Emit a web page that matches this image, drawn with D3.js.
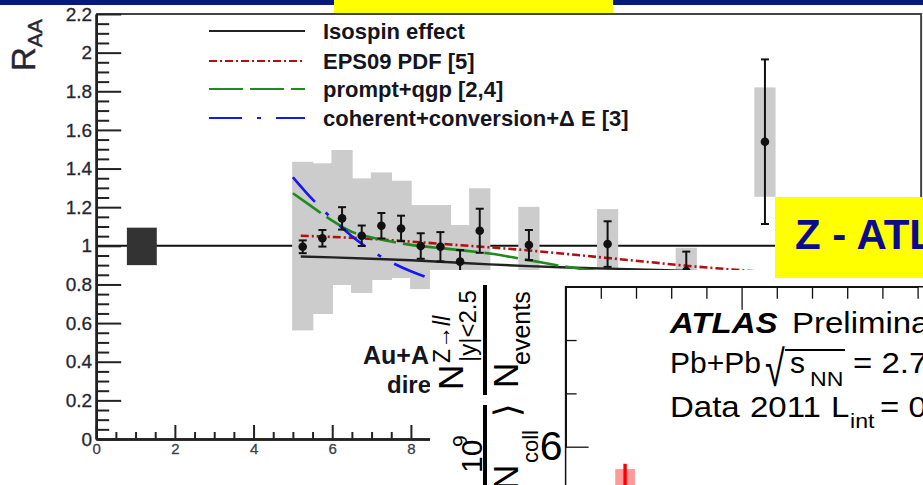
<!DOCTYPE html>
<html><head><meta charset="utf-8">
<script src="https://cdn.jsdelivr.net/npm/d3@7"></script>
<style>
html,body{margin:0;padding:0;background:#fff;}
svg{display:block;font-family:"Liberation Sans",Arial,Helvetica,sans-serif;}
</style></head><body>
<svg id="c" width="923" height="485"></svg>
<script>
// ---- direct photon R_AA vs pT ----
const ptBins   = [5.25,5.75,6.25,6.75,7.25,7.75,8.25,8.75,9.25,9.75,11,13,15,17];
const raa      = [0.995,1.039,1.142,1.052,1.104,1.090,0.999,0.995,0.918,1.078,1.004,1.009,0.87,1.539];
const statErr  = [0.033,0.043,0.058,0.053,0.066,0.066,0.066,0.076,0.06,0.114,0.078,0.118,0.10,0.426];
const sysLow   = [0.562,0.647,0.797,0.756,0.823,0.833,0.776,0.78,0.73,0.86,0.806,0.828,0.75,1.254];
const sysHigh  = [1.435,1.427,1.496,1.349,1.380,1.337,1.211,1.211,1.108,1.298,1.202,1.19,0.99,1.82];

// theory curves
const isospinPt = [5.2,6,7,8,9,10,11,12,13,14,15,16,17,18];
const isospin   = [0.945,0.94,0.933,0.925,0.915,0.904,0.895,0.888,0.882,0.877,0.87,0.864,0.858,0.852];
const eps09Pt   = [5.2,6,7,8,9,10,11,12,13,14,15,16,17,18];
const eps09     = [1.052,1.046,1.036,1.022,1.007,0.992,0.976,0.957,0.937,0.917,0.897,0.88,0.864,0.85];
const qgpPt     = [5.0,5.5,6.0,6.5,7.0,7.5,8.0,9.0,10.0,11.0,12.0,13.0,14.0];
const qgp       = [1.272,1.2,1.13,1.072,1.043,1.022,1.005,0.983,0.96,0.926,0.89,0.862,0.842];
const cohPt     = [5.0,5.5,6.0,6.5,7.0,7.5,8.0,8.5,9.0];
const coh       = [1.355,1.24,1.14,1.05,0.975,0.915,0.868,0.83,0.80];

const normBox = [0.78, 1.54, 0.9, 1.094];   // pT from, pT to, R_AA low, R_AA high

const yTickValues = [0,0.2,0.4,0.6,0.8,1,1.2,1.4,1.6,1.8,2,2.2];
const yTickLabels = ["0","0.2","0.4","0.6","0.8","1","1.2","1.4","1.6","1.8","2","2.2"];
const xTickValues = [0,2,4,6,8,10,12,14,16,18,20];
const xTickLabels = ["0","2","4","6","8","10","12","14","16","18","20"];

const legendNames = ["Isospin effect","EPS09 PDF [5]","prompt+qgp [2,4]","coherent+conversion+\u0394 E [3]"];

// ---- Z yield panel ----
const zNpart   = [16.9];
const zYield   = [5.45];
const zStat    = [0.39];
const zSys     = [0.34];
const zYTicks  = [6];
const zYTickLabels = ["6"];

const svg = d3.select("#c");
const W = 923, H = 485;
svg.append("rect").attr("width",W).attr("height",H).attr("fill","#fff");

// slide header strip and title box
svg.append("rect").attr("x",0).attr("y",0).attr("width",W).attr("height",5).attr("fill","#06197c");
svg.append("rect").attr("x",334).attr("y",0).attr("width",279).attr("height",13).attr("fill","#ffff00");

const x = d3.scaleLinear().domain([0,21]).range([96.2, 922.3]);
const y = d3.scaleLinear().domain([0,2.2]).range([439, 14]);
const txtCol = "#262633";

// frame
svg.append("path")
  .attr("d", `M${x(0)},${y(2.2)}H${x(20.97)}V${y(0)}`)
  .attr("fill","none").attr("stroke","#444").attr("stroke-width",2);

// unity reference
svg.append("line").attr("x1",x(0)).attr("x2",x(20.97)).attr("y1",y(1)).attr("y2",y(1))
  .attr("stroke","#111").attr("stroke-width",2);

// normalization uncertainty
svg.append("rect")
  .attr("x",x(normBox[0])).attr("width",x(normBox[1])-x(normBox[0]))
  .attr("y",y(normBox[3])).attr("height",y(normBox[2])-y(normBox[3]))
  .attr("fill","#333");

// systematic boxes
const hw = 0.27;
svg.append("g").selectAll("rect").data(d3.range(ptBins.length)).join("rect")
  .attr("x", i => x(ptBins[i]-hw)).attr("width", i => x(ptBins[i]+hw)-x(ptBins[i]-hw))
  .attr("y", i => y(sysHigh[i])).attr("height", i => y(sysLow[i])-y(sysHigh[i]))
  .attr("fill","#cccccc");

// theory curves
const line = d3.line().curve(d3.curveMonotoneX).x(d => x(d[0])).y(d => y(d[1]));
const curves = [
  {pt: isospinPt, v: isospin, color:"#222",    dash:null,          w:2.4},
  {pt: eps09Pt,   v: eps09,   color:"#b0100f", dash:"8,3,2,3",     w:2.6},
  {pt: qgpPt,     v: qgp,     color:"#1f8a1f", dash:"34,7",        w:2.6},
  {pt: cohPt,     v: coh,     color:"#1717f0", dash:"33,15,4,15",  w:2.6}
];
curves.forEach(c => {
  svg.append("path").datum(c.pt.map((p,i)=>[p,c.v[i]]))
    .attr("d", line).attr("fill","none").attr("stroke",c.color)
    .attr("stroke-width",c.w).attr("stroke-dasharray",c.dash);
});

// data points with statistical errors
const pg = svg.append("g").attr("stroke","#111").attr("stroke-width",2);
ptBins.forEach((p,i) => {
  const cx = x(p), lo = y(raa[i]-statErr[i]), hi = y(raa[i]+statErr[i]);
  pg.append("line").attr("x1",cx).attr("x2",cx).attr("y1",lo).attr("y2",hi);
  pg.append("line").attr("x1",cx-4).attr("x2",cx+4).attr("y1",lo).attr("y2",lo);
  pg.append("line").attr("x1",cx-4).attr("x2",cx+4).attr("y1",hi).attr("y2",hi);
});
svg.append("g").selectAll("circle").data(d3.range(ptBins.length)).join("circle")
  .attr("cx", i => x(ptBins[i])).attr("cy", i => y(raa[i])).attr("r",4.3).attr("fill","#111");

// axes
function styleAxis(g, w){
  g.select(".domain").attr("stroke","#222").attr("stroke-width",w);
  g.selectAll(".tick line").attr("stroke","#222").attr("stroke-width",2);
}
const yMinor = d3.range(0,45).map(i=>i*0.05).filter(v => Math.abs(v*5-Math.round(v*5))>1e-6);
const gyMin = svg.append("g").attr("transform",`translate(${x(0)},0)`)
  .call(d3.axisLeft(y).tickValues(yMinor).tickSize(-13).tickSizeOuter(0).tickFormat(""));
styleAxis(gyMin, 2.5);
const gy = svg.append("g").attr("transform",`translate(${x(0)},0)`)
  .call(d3.axisLeft(y).tickValues(yTickValues).tickSize(-25).tickSizeOuter(0).tickPadding(4)
        .tickFormat((d,i) => yTickLabels[i]));
styleAxis(gy, 2.5);
gy.selectAll("text").attr("font-size",19).attr("fill",txtCol).attr("stroke",txtCol).attr("stroke-width",0.3)
  .attr("font-family","Liberation Sans, Arial, sans-serif");

const xMinor = d3.range(0,43).map(i=>i*0.5).filter(v => v % 2 !== 0);
const gxMin = svg.append("g").attr("transform",`translate(0,${y(0)})`)
  .call(d3.axisBottom(x).tickValues(xMinor).tickSize(-7).tickSizeOuter(0).tickFormat(""));
styleAxis(gxMin, 2.5);
const gx = svg.append("g").attr("transform",`translate(0,${y(0)})`)
  .call(d3.axisBottom(x).tickValues(xTickValues).tickSize(-14).tickSizeOuter(0).tickPadding(4)
        .tickFormat((d,i) => xTickLabels[i]));
styleAxis(gx, 2.5);
gx.selectAll("text").attr("font-size",15).attr("fill","#3a4050").attr("stroke","#3a4050").attr("stroke-width",0.3)
  .attr("font-family","Liberation Sans, Arial, sans-serif");

// y title R_AA
const yt = svg.append("text").attr("transform","translate(35,71) rotate(-90)").attr("fill",txtCol)
  .attr("stroke",txtCol).attr("stroke-width",0.4).attr("font-size",33);
yt.append("tspan").text("R");
yt.append("tspan").attr("font-size",21).attr("dy",7).text("AA");

// legend
const legY = [31, 61, 89, 118];
curves.forEach((c,i) => {
  svg.append("line").attr("x1",209).attr("x2",305).attr("y1",legY[i]).attr("y2",legY[i])
    .attr("stroke",c.color).attr("stroke-width",2.2).attr("stroke-dasharray",c.dash);
  svg.append("text").attr("x",323).attr("y",legY[i]).attr("dy","0.35em")
    .attr("font-size",22).attr("font-weight","bold").attr("fill","#15151f").text(legendNames[i]);
});

// system label
svg.append("text").attr("x",363).attr("y",364).attr("font-size",25).attr("font-weight","bold")
  .attr("fill","#15151f").text("Au+Au");
svg.append("text").attr("x",387).attr("y",393).attr("font-size",24).attr("font-weight","bold")
  .attr("fill","#15151f").text("direct \u03b3");

// ---- Z panel on top ----
const zp = svg.append("g");
zp.append("rect").attr("x",430).attr("y",270).attr("width",W-430).attr("height",H-270).attr("fill","#fff");

const ax = d3.scaleLinear().domain([0,100]).range([565.6, 917.6]);
const ay = d3.scaleLinear().domain([6,7.5]).range([446.7, 286.7]);

const xaMinor = d3.range(10,101,10).filter(v => v !== 50);
const gza = zp.append("g").attr("transform",`translate(0,${ay(7.5)})`)
  .call(d3.axisTop(ax).tickValues(xaMinor).tickSize(-12).tickSizeOuter(0).tickFormat(""));
const gzb = zp.append("g").attr("transform",`translate(0,${ay(7.5)})`)
  .call(d3.axisTop(ax).tickValues([50]).tickSize(-23).tickSizeOuter(0).tickFormat(""));
const gzc = zp.append("g").attr("transform",`translate(${ax(0)},0)`)
  .call(d3.axisLeft(ay).tickValues([5,5.5,6.5,7,7.5]).tickSize(-11).tickSizeOuter(0).tickFormat(""));
const gzd = zp.append("g").attr("transform",`translate(${ax(0)},0)`)
  .call(d3.axisLeft(ay).tickValues(zYTicks).tickSize(-23).tickSizeOuter(0).tickPadding(3)
        .tickFormat((d,i) => zYTickLabels[i]));
[gza,gzb,gzc,gzd].forEach(g => {
  g.select(".domain").attr("stroke","#111").attr("stroke-width",1.5);
  g.selectAll(".tick line").attr("stroke","#111").attr("stroke-width",1.3);
});
gzd.selectAll("text").attr("font-size",41).attr("fill","#000").attr("font-family","Liberation Sans, Arial, sans-serif");
// extend the frame lines to the page edges
zp.append("path").attr("d",`M${ax(0)},${H}V${ay(7.5)}H${W}`).attr("fill","none")
  .attr("stroke","#111").attr("stroke-width",1.5);

// Z yield point
zNpart.forEach((n,i) => {
  zp.append("rect").attr("x",ax(n-2.8)).attr("width",ax(n+2.8)-ax(n-2.8))
    .attr("y",ay(zYield[i]+zSys[i])).attr("height",ay(zYield[i]-zSys[i])-ay(zYield[i]+zSys[i]))
    .attr("fill","#ff9a9a");
  zp.append("line").attr("x1",ax(n)).attr("x2",ax(n))
    .attr("y1",ay(zYield[i]+zStat[i])).attr("y2",ay(zYield[i]-zStat[i]))
    .attr("stroke","#ff0000").attr("stroke-width",3.4);
  zp.append("circle").attr("cx",ax(n)).attr("cy",ay(zYield[i])).attr("r",5).attr("fill","#ff0000");
});

// rotated y title pieces
function rot(px, py, txt, size, italic){
  return zp.append("text").attr("transform",`translate(${px},${py}) rotate(-90)`)
    .attr("font-size",size).attr("fill","#000").attr("font-style", italic ? "italic" : null).text(txt);
}
rot(463,390,"N",35);
const zs = rot(450,363,"Z\u2192",23); zs.append("tspan").attr("font-style","italic").text("ll");
rot(476,362,"|y|<2.5",24);
zp.append("rect").attr("x",483).attr("y",285).attr("width",4).attr("height",110).attr("fill","#000");
rot(518,388,"N",35);
rot(530,365,"events",25);
zp.append("rect").attr("x",483).attr("y",405).attr("width",4).attr("height",85).attr("fill","#000");
rot(482,473,"10",30);
rot(467,447,"9",21);
rot(518,490,"N",35);
rot(538,463,"coll",22);
rot(519,417,"\u27e9",35);

// panel annotations
function atxt(px, py, str, size, opts = {}){
  const sx = opts.sx || 1.1;
  const t = zp.append("text").attr("transform",`translate(${px},${py}) scale(${sx},1)`)
    .attr("font-size",size).attr("fill","#000").text(str);
  if (opts.bold) t.attr("font-weight","bold");
  if (opts.italic) t.attr("font-style","italic");
  return t;
}
atxt(670,333,"ATLAS",30,{bold:true,italic:true});
atxt(792,333,"Preliminary",30);
atxt(670,373,"Pb+Pb",30,{sx:1});
zp.append("text").attr("transform","translate(765,386) scale(1.0,1.4)")
  .attr("font-size",36).attr("fill","#000").text("\u221a");
zp.append("line").attr("x1",785).attr("x2",845).attr("y1",350).attr("y2",350)
  .attr("stroke","#000").attr("stroke-width",1.8);
atxt(790,373,"s",30,{sx:1});
atxt(810,386,"NN",21);
atxt(853,373,"= 2.76 TeV",30);
atxt(670,417,"Data",30);
atxt(750,417,"2011",30);
atxt(831,417,"L",30);
atxt(850,428,"int",21);
atxt(880,417,"= 0.15 nb",30);

// second title box
svg.append("rect").attr("x",775).attr("y",197).attr("width",W-775).attr("height",81).attr("fill","#ffff00");
svg.append("text").attr("x",795).attr("y",249).attr("font-size",42).attr("font-weight","bold")
  .attr("fill","#0b0b8c").text("Z - ATLAS");
</script>
</body></html>
